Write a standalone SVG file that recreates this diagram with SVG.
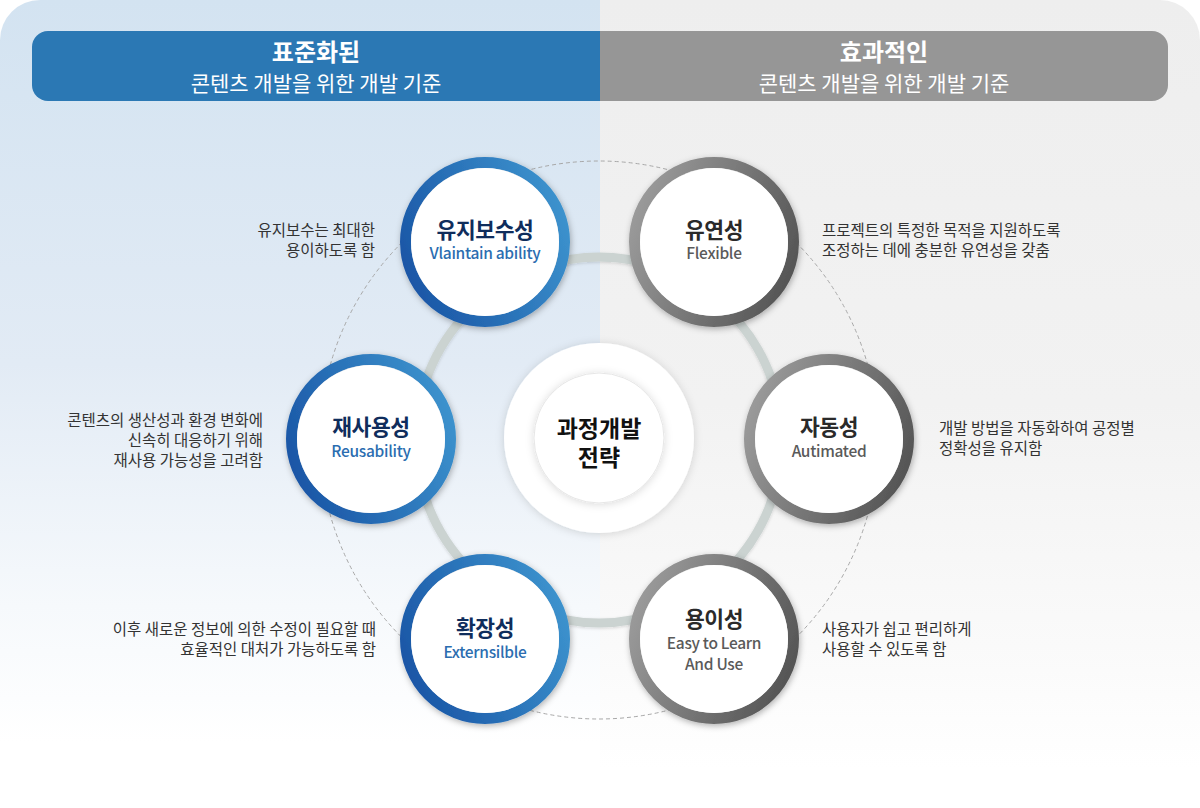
<svg xmlns="http://www.w3.org/2000/svg" width="1200" height="808" viewBox="0 0 1200 808">
<defs>
<linearGradient id="bgL" x1="0" y1="0" x2="0" y2="808" gradientUnits="userSpaceOnUse">
<stop offset="0" stop-color="#d3e3f1"/>
<stop offset="0.45" stop-color="#e2ebf5"/>
<stop offset="0.75" stop-color="#f6f9fc"/>
<stop offset="0.92" stop-color="#ffffff"/>
</linearGradient>
<linearGradient id="bgR" x1="0" y1="0" x2="0" y2="808" gradientUnits="userSpaceOnUse">
<stop offset="0" stop-color="#eeeeee"/>
<stop offset="0.5" stop-color="#f2f2f2"/>
<stop offset="0.8" stop-color="#fafafa"/>
<stop offset="0.95" stop-color="#ffffff"/>
</linearGradient>
<linearGradient id="ringBlue" x1="0" y1="0.7" x2="1" y2="0.3">
<stop offset="0" stop-color="#1a56a6"/>
<stop offset="1" stop-color="#3c92cd"/>
</linearGradient>
<linearGradient id="ringGray" x1="0" y1="0.3" x2="1" y2="0.7">
<stop offset="0" stop-color="#9a9a9a"/>
<stop offset="1" stop-color="#555555"/>
</linearGradient>
<filter id="sh" x="-30%" y="-30%" width="160%" height="160%">
<feDropShadow dx="1" dy="2" stdDeviation="3" flood-color="#000" flood-opacity="0.3"/>
</filter>
<filter id="shSoft" x="-30%" y="-30%" width="160%" height="160%">
<feDropShadow dx="0" dy="1" stdDeviation="4" flood-color="#000" flood-opacity="0.15"/>
</filter>
<filter id="shLine" x="-10%" y="-10%" width="120%" height="120%">
<feDropShadow dx="0" dy="1" stdDeviation="1.5" flood-color="#000" flood-opacity="0.15"/>
</filter>
</defs>
<style>
.kr{font-family:"Noto Sans CJK KR","Noto Sans",sans-serif;}
.hT{font-size:24px;font-weight:700;fill:#ffffff;text-anchor:middle;}
.hS{font-size:21px;font-weight:400;fill:#ffffff;text-anchor:middle;}
.ring{fill:none;stroke-width:11;}
.inner{fill:#ffffff;}
.tB{font-size:21.5px;font-weight:700;fill:#0f2d5c;text-anchor:middle;letter-spacing:-0.4px;}
.sB{font-size:15.5px;font-weight:500;fill:#2b6db0;text-anchor:middle;letter-spacing:-0.3px;}
.tG{font-size:21.5px;font-weight:700;fill:#2a2a2a;text-anchor:middle;letter-spacing:-0.4px;}
.sG{font-size:15.5px;font-weight:500;fill:#5a5a5a;text-anchor:middle;letter-spacing:-0.3px;}
.desc{font-size:15.5px;fill:#333333;}
.r{text-anchor:end;}
.cT{font-size:23px;font-weight:700;fill:#111111;text-anchor:middle;}
</style>

<g id="background">
<path d="M0,40 A40,40 0 0 1 40,0 H600 V808 H0 Z" fill="url(#bgL)"/>
<path d="M600,0 H1160 A40,40 0 0 1 1200,40 V808 H600 Z" fill="url(#bgR)"/>
</g>

<g id="header-left">
<path d="M48,31 H600 V101 H48 A16,16 0 0 1 32,85 V47 A16,16 0 0 1 48,31 Z" fill="#2b78b4"/>
<text class="kr hT" x="316" y="61">표준화된</text>
<text class="kr hS" x="316" y="91">콘텐츠 개발을 위한 개발 기준</text>
</g>
<g id="header-right">
<path d="M600,31 H1152 A16,16 0 0 1 1168,47 V85 A16,16 0 0 1 1152,101 H600 Z" fill="#969696"/>
<text class="kr hT" x="884" y="61">효과적인</text>
<text class="kr hS" x="884" y="91">콘텐츠 개발을 위한 개발 기준</text>
</g>

<g id="connectors">
<circle cx="599" cy="440" r="279" fill="none" stroke="#a8a8a8" stroke-width="1" stroke-dasharray="4 3"/>
<circle cx="599" cy="440" r="183" fill="none" stroke="#cbd3d1" stroke-width="9" filter="url(#shLine)"/>
</g>

<g id="center">
<circle cx="599" cy="438" r="95" fill="#ffffff" filter="url(#shSoft)"/>
<circle cx="599" cy="438" r="65" fill="#ffffff" stroke="#e6e6e6" stroke-width="1" filter="url(#shSoft)"/>
<text class="kr cT" x="599" y="437">과정개발</text>
<text class="kr cT" x="599" y="466">전략</text>
</g>

<g id="node-maintain">
<circle cx="485" cy="242" r="79.5" class="ring" stroke="url(#ringBlue)" filter="url(#sh)"/>
<circle cx="485" cy="242" r="74" class="inner"/>
<text class="kr tB" x="485" y="238">유지보수성</text>
<text class="kr sB" x="485" y="259">Vlaintain ability</text>
</g>

<g id="node-flexible">
<circle cx="714" cy="242" r="79.5" class="ring" stroke="url(#ringGray)" filter="url(#sh)"/>
<circle cx="714" cy="242" r="74" class="inner"/>
<text class="kr tG" x="714" y="238">유연성</text>
<text class="kr sG" x="714" y="259">Flexible</text>
</g>

<g id="node-reuse">
<circle cx="371" cy="439" r="79.5" class="ring" stroke="url(#ringBlue)" filter="url(#sh)"/>
<circle cx="371" cy="439" r="74" class="inner"/>
<text class="kr tB" x="371" y="435">재사용성</text>
<text class="kr sB" x="371" y="457">Reusability</text>
</g>

<g id="node-auto">
<circle cx="829" cy="439" r="79.5" class="ring" stroke="url(#ringGray)" filter="url(#sh)"/>
<circle cx="829" cy="439" r="74" class="inner"/>
<text class="kr tG" x="829" y="435">자동성</text>
<text class="kr sG" x="829" y="457">Autimated</text>
</g>

<g id="node-extend">
<circle cx="485" cy="639" r="79.5" class="ring" stroke="url(#ringBlue)" filter="url(#sh)"/>
<circle cx="485" cy="639" r="74" class="inner"/>
<text class="kr tB" x="485" y="636">확장성</text>
<text class="kr sB" x="485" y="658">Externsilble</text>
</g>

<g id="node-easy">
<circle cx="714" cy="639" r="79.5" class="ring" stroke="url(#ringGray)" filter="url(#sh)"/>
<circle cx="714" cy="639" r="74" class="inner"/>
<text class="kr tG" x="714" y="627">용이성</text>
<text class="kr sG" x="714" y="649">Easy to Learn</text>
<text class="kr sG" x="714" y="670">And Use</text>
</g>

<g id="descriptions">
<text class="kr desc r" x="375" y="236">유지보수는 최대한</text>
<text class="kr desc r" x="375" y="256">용이하도록 함</text>
<text class="kr desc r" x="263" y="426">콘텐츠의 생산성과 환경 변화에</text>
<text class="kr desc r" x="263" y="446">신속히 대응하기 위해</text>
<text class="kr desc r" x="263" y="466">재사용 가능성을 고려함</text>
<text class="kr desc r" x="376" y="635">이후 새로운 정보에 의한 수정이 필요할 때</text>
<text class="kr desc r" x="376" y="655">효율적인 대처가 가능하도록 함</text>
<text class="kr desc" x="822" y="236">프로젝트의 특정한 목적을 지원하도록</text>
<text class="kr desc" x="822" y="256">조정하는 데에 충분한 유연성을 갖춤</text>
<text class="kr desc" x="939" y="434">개발 방법을 자동화하여 공정별</text>
<text class="kr desc" x="939" y="454">정확성을 유지함</text>
<text class="kr desc" x="822" y="635">사용자가 쉽고 편리하게</text>
<text class="kr desc" x="822" y="655">사용할 수 있도록 함</text>
</g>
</svg>
